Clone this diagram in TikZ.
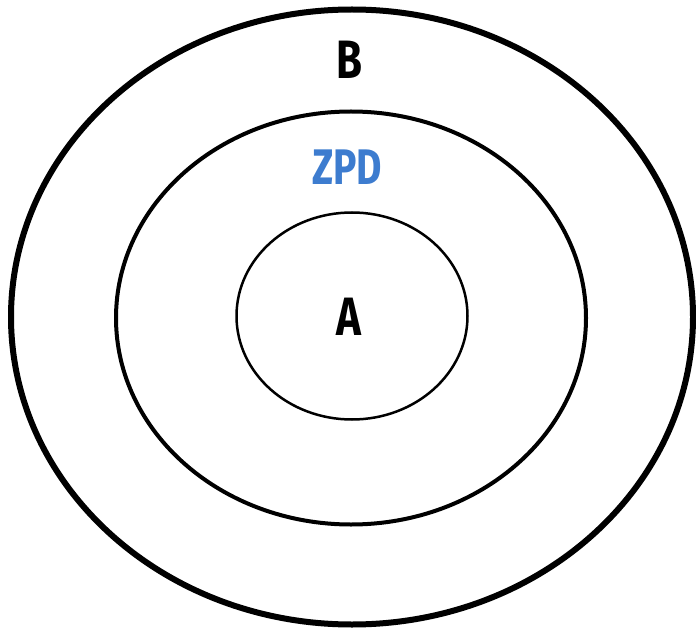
\documentclass[tikz,border=0pt]{standalone}
\usepackage{fontspec}
\usetikzlibrary{shapes.geometric}
\newfontfamily\handfont[FakeStretch=0.78]{Fira Sans}
\definecolor{zpdblue}{HTML}{3D7CCF}

\begin{document}
\begin{tikzpicture}[x=1pt,y=-1pt,
  ring/.style={draw=black,ellipse,inner sep=0pt},
  lbl/.style={inner sep=0pt,font=\handfont\bfseries\fontsize{54}{54}\selectfont}]
  \useasboundingbox (0,0) rectangle (696,631);
  % rings
  \node[ring,line width=6pt,minimum width=682pt,minimum height=615pt] (outer) at (352,317) {};
  \node[ring,line width=4pt,minimum width=470pt,minimum height=413pt] (zpd) at (351,318) {};
  \node[ring,line width=2.5pt,minimum width=231pt,minimum height=207pt] (inner) at (352,316) {};
  % labels
  \node[lbl] (b) at (349,60) {B};
  \node[lbl,text=zpdblue,font=\handfont\bfseries\fontsize{50}{50}\selectfont] (zpdlbl) at (347,167) {ZPD};
  \node[lbl] (a) at (349,317) {A};
\end{tikzpicture}
\end{document}
